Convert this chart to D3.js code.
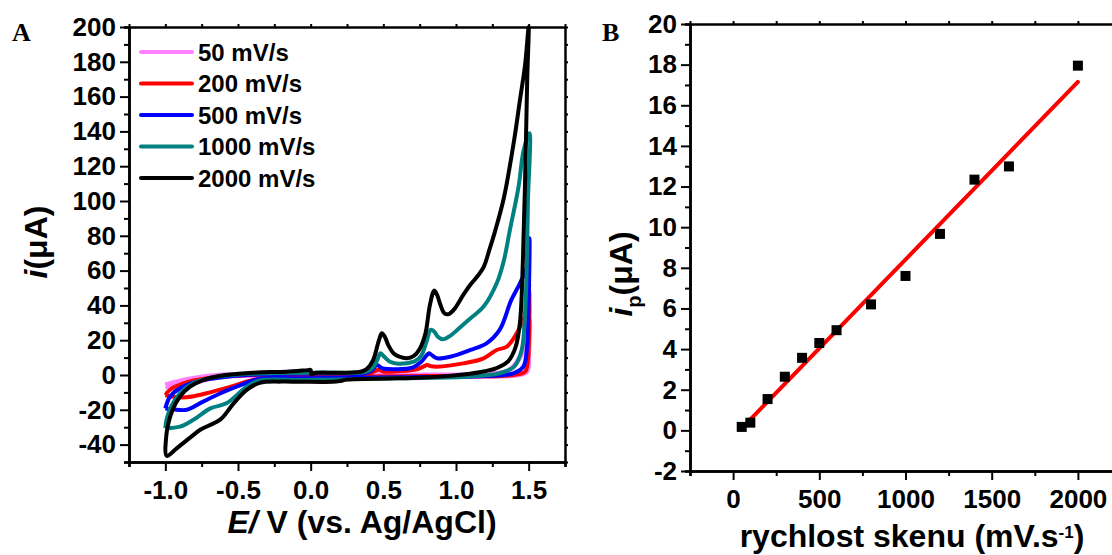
<!DOCTYPE html>
<html>
<head>
<meta charset="utf-8">
<script src="https://cdn.jsdelivr.net/npm/d3@7"></script>
<style>
	body { margin: 0; background: #fff; }
	svg { display: block; font-family: Arial, 'Liberation Sans', sans-serif; font-weight: bold; }
	.tick text { font-size: 26px; font-weight: bold; fill: #000; }
	.domain, .tick line { stroke: #000; }
</style>
</head>
<body>
<svg id="chart" width="1112" height="555"></svg>
<script>

// panel A: cyclic voltammograms, [E (V), i (uA)]
const scanRates = ['50 mV/s', '200 mV/s', '500 mV/s', '1000 mV/s', '2000 mV/s']
const cvColors = ['#ff80ff', '#ff0000', '#0000ff', '#008080', '#000000']

const cv50 = [[-1.0,-5.7],[-0.85,-2.5],[-0.62,0],[0.0,0.3],[1.2,0.5],[1.35,2],[1.395,4.8],[1.463,14.4],[1.505,31.6],
	[1.5,14.4],[1.487,2],[1.418,0],[0.5,-0.3],[-0.3,-0.3],[-0.62,-1],[-0.785,-3.8],[-0.9,-5.7],[-1.0,-6.7]]

const cv200 = [[-1.0,-11.5],[-0.97,-8.6],[-0.876,-4.8],[-0.715,-1.9],[-0.4,0],[0.18,0.6],[0.4,0.8],[0.44,2.2],[0.47,3],[0.5,2],
	[0.6,2.2],[0.73,3.3],[0.78,5],[0.8,5.7],[0.83,5],[0.87,4.8],[1.05,6.7],[1.19,9.6],[1.28,14.4],[1.35,16.3],[1.418,24],
	[1.487,37.4],[1.505,52.7],
	[1.503,24],[1.495,8.6],[1.475,1.9],[1.395,0],[0.8,-0.6],[-0.07,-1],[-0.165,-0.8],[-0.395,-2.9],[-0.55,-6.7],
	[-0.715,-10.5],[-0.853,-12.8],[-0.945,-12.5],[-1.0,-11.5]]

const cv500 = [[-1.0,-19.2],[-0.968,-12.5],[-0.9,-7.6],[-0.785,-3.8],[-0.58,-1],[-0.28,0.6],[0.18,0.9],[0.36,0.8],[0.42,2.5],
	[0.455,5.7],[0.49,4],[0.53,3.5],[0.7,4.2],[0.76,7.5],[0.8,11.5],[0.815,12.5],[0.84,11],[0.87,9.6],[0.96,10.5],
	[1.1,14.4],[1.21,18.2],[1.3,25.9],[1.38,43],[1.44,52.7],[1.487,62],[1.505,78.6],
	[1.5,43],[1.487,14.4],[1.463,4.8],[1.395,1],[1.19,-0.6],[0.6,-1.3],[-0.07,-1.9],[-0.35,-2.2],[-0.51,-6.7],
	[-0.62,-10.5],[-0.74,-15.3],[-0.853,-20],[-0.945,-19.7],[-1.0,-19.2]]

const cv1000 = [[-1.0,-30.6],[-0.99,-25],[-0.96,-18],[-0.9,-10.5],[-0.81,-4.8],[-0.67,-1.3],[-0.4,0.7],[0.18,1.3],[0.36,1.5],
	[0.42,3.5],[0.455,8],[0.48,12.5],[0.5,11],[0.546,7.6],[0.6,6.5],[0.66,6.7],[0.72,8],[0.76,11],[0.8,20],[0.825,25.9],
	[0.85,25],[0.875,22],[0.91,20.5],[0.96,22.5],[1.01,26],[1.1,32.6],[1.19,39.3],[1.28,52.7],[1.33,66],[1.37,83],
	[1.43,108],[1.465,129],[1.505,139],
	[1.495,100],[1.487,62],[1.475,35.5],[1.452,14.4],[1.4,4.8],[1.3,1],[1.07,-1],[0.6,-1.9],[-0.07,-2.9],[-0.35,-3.2],
	[-0.44,-6.7],[-0.58,-16.3],[-0.69,-19.2],[-0.81,-25.9],[-0.9,-29.7],[-0.99,-30.6]]

const cv2000 = [[-1.0,-42],[-0.985,-30],[-0.95,-20],[-0.9,-12.5],[-0.83,-6.7],[-0.74,-2.9],[-0.62,-0.4],[-0.4,1.3],
	[-0.17,1.9],[-0.02,2.8],[0.0,2.9],[0.005,0.5],[0.03,1.2],[0.2,1.3],[0.35,2],[0.39,3.8],[0.43,8.6],[0.47,20],[0.49,24],
	[0.51,22],[0.535,17],[0.57,12.5],[0.61,10.5],[0.66,9.6],[0.71,11],[0.75,15],[0.79,24],[0.82,40],[0.85,48.5],[0.87,46],
	[0.89,41],[0.92,35.5],[0.95,35],[0.99,38],[1.05,46],[1.1,52],[1.15,57],[1.19,62],[1.23,72],[1.27,83],[1.33,102],
	[1.4,135],[1.44,158],[1.475,178],[1.5,200],
	[1.49,170],[1.475,110],[1.46,65],[1.44,30],[1.41,16],[1.36,8],[1.28,4],[1.2,2.2],[1.05,0.3],[0.9,-0.8],[0.6,-1.9],
	[0.25,-2.6],[0.2,-3.5],[0.15,-3.9],[-0.07,-3.9],[-0.2,-3.8],[-0.35,-4.5],[-0.44,-8.6],[-0.53,-16.3],[-0.62,-25.5],
	[-0.7,-29],[-0.76,-31.5],[-0.83,-36],[-0.92,-42],[-0.99,-46.5],[-1.0,-42]]

const cvSeries = [cv50, cv200, cv500, cv1000, cv2000]

// panel B: peak current vs scan rate
const scanRate = [50, 100, 200, 300, 400, 500, 600, 800, 1000, 1200, 1400, 1600, 2000]
const peakCurrent = [0.17, 0.38, 1.54, 2.64, 3.57, 4.3, 4.93, 6.2, 7.6, 9.67, 12.34, 12.99, 17.95]
const fitRate = [50, 2000]
const fitCurrent = [0.1, 17.15]

const xTicksA = [-1.0, -0.5, 0.0, 0.5, 1.0, 1.5]
const yTicksA = [-40, -20, 0, 20, 40, 60, 80, 100, 120, 140, 160, 180, 200]
const xTicksB = [0, 500, 1000, 1500, 2000]
const yTicksB = [-2, 0, 2, 4, 6, 8, 10, 12, 14, 16, 18, 20]

const svg = d3.select('#chart')

// plain hyphen instead of d3's unicode minus
const hyphen = f => d => f(d).replace('\u2212', '-')

const drawFrame = (g, x, y, xMajor, xMinor, yMajor, yMinor, xFmt, yFmt, w, h) => {
	// minor ticks first
	g.append('g').attr('transform', `translate(0,${h})`)
		.call(d3.axisBottom(x).tickValues(xMinor).tickSize(5).tickFormat(''))
	g.append('g')
		.call(d3.axisLeft(y).tickValues(yMinor).tickSize(5).tickFormat(''))
	g.append('g')
		.call(d3.axisTop(x).tickValues(xMinor.concat(xMajor)).tickSize(3).tickFormat('').tickSizeOuter(0))
	g.append('g').attr('transform', `translate(${w},0)`)
		.call(d3.axisRight(y).tickValues(yMinor.concat(yMajor)).tickSize(3).tickFormat('').tickSizeOuter(0))
	g.append('g').attr('transform', `translate(0,${h})`)
		.call(d3.axisBottom(x).tickValues(xMajor).tickSize(9).tickPadding(10).tickFormat(xFmt).tickSizeOuter(0))
	g.append('g')
		.call(d3.axisLeft(y).tickValues(yMajor).tickSize(9).tickPadding(4).tickFormat(yFmt).tickSizeOuter(0))
	g.selectAll('.domain').attr('stroke-width', 2.5)
	g.selectAll('.tick line').attr('stroke-width', 2)
}

// ---------- panel A ----------
const wA = 436, hA = 435
const gA = svg.append('g').attr('transform', 'translate(129,27)')

const xA = d3.scaleLinear().domain([-1.25, 1.75]).range([0, wA])
const yA = d3.scaleLinear().domain([-50, 200]).range([hA, 0])

const cvLine = d3.line()
	.x(d => xA(d[0]))
	.y(d => yA(d[1]))
	.curve(d3.curveCatmullRom.alpha(0.5))

gA.selectAll('path.cv')
	.data(cvSeries)
	.enter()
	.append('path')
	.attr('class', 'cv')
	.attr('d', d => cvLine(d))
	.attr('fill', 'none')
	.attr('stroke', (d, i) => cvColors[i])
	.attr('stroke-width', (d, i) => i === 0 ? 5 : 4)
	.attr('stroke-linejoin', 'round')

drawFrame(gA, xA, yA, xTicksA, [-1.25, -0.75, -0.25, 0.25, 0.75, 1.25, 1.75],
	yTicksA, [-50, -30, -10, 10, 30, 50, 70, 90, 110, 130, 150, 170, 190],
	hyphen(d => d.toFixed(1)), hyphen(d3.format('d')), wA, hA)

const legend = gA.selectAll('g.leg')
	.data(scanRates)
	.enter()
	.append('g')
	.attr('class', 'leg')
	.attr('transform', (d, i) => `translate(12,${25 + i * 31.5})`)

legend.append('line')
	.attr('x1', 0).attr('x2', 51)
	.attr('stroke', (d, i) => cvColors[i])
	.attr('stroke-width', 4)
	.attr('stroke-linecap', 'round')

legend.append('text')
	.attr('x', 57).attr('y', 8.5)
	.style('font-size', '24px')
	.text(d => d)

svg.append('text')
	.attr('x', 12).attr('y', 41)
	.style('font-family', "'Liberation Serif', 'Times New Roman', serif")
	.style('font-size', '26px')
	.text('A')

const yTitleA = svg.append('text')
	.attr('transform', 'translate(47,242) rotate(-90)')
	.attr('text-anchor', 'middle')
	.style('font-size', '32px')
yTitleA.append('tspan').style('font-style', 'italic').text('i')
yTitleA.append('tspan').text('(μA)')

const xTitleA = svg.append('text')
	.attr('x', 362).attr('y', 533)
	.attr('text-anchor', 'middle')
	.style('font-size', '32px')
xTitleA.append('tspan').style('font-style', 'italic').text('E')
xTitleA.append('tspan').style('font-style', 'italic').text('/')
xTitleA.append('tspan').text(' V (vs. Ag/AgCl)')

// ---------- panel B ----------
const wB = 431, hB = 447
const gB = svg.append('g').attr('transform', 'translate(690,24)')

const xB = d3.scaleLinear().domain([-250, 2250]).range([0, wB])
const yB = d3.scaleLinear().domain([-2, 20]).range([hB, 0])

drawFrame(gB, xB, yB, xTicksB, [-250, 250, 750, 1250, 1750, 2250],
	yTicksB, [-1, 1, 3, 5, 7, 9, 11, 13, 15, 17, 19],
	d => d, hyphen(d3.format('d')), wB, hB)

const fitLine = d3.line()
	.x(d => xB(d[0]))
	.y(d => yB(d[1]))

gB.append('path')
	.attr('d', fitLine(fitRate.map((r, i) => [r, fitCurrent[i]])))
	.attr('fill', 'none')
	.attr('stroke', '#ff0000')
	.attr('stroke-width', 4)
	.attr('stroke-linecap', 'round')

gB.selectAll('rect.pt')
	.data(scanRate)
	.enter()
	.append('rect')
	.attr('class', 'pt')
	.attr('x', d => xB(d) - 5)
	.attr('y', (d, i) => yB(peakCurrent[i]) - 5)
	.attr('width', 10)
	.attr('height', 10)
	.attr('fill', '#000')

svg.append('text')
	.attr('x', 602).attr('y', 41)
	.style('font-family', "'Liberation Serif', 'Times New Roman', serif")
	.style('font-size', '26px')
	.text('B')

const yTitleB = svg.append('text')
	.attr('transform', 'translate(632,274) rotate(-90)')
	.attr('text-anchor', 'middle')
	.style('font-size', '32px')
yTitleB.append('tspan').style('font-style', 'italic').text('i')
yTitleB.append('tspan').attr('dy', 9).style('font-size', '20px').text('p')
yTitleB.append('tspan').attr('dy', -9).text('(μA)')

const xTitleB = svg.append('text')
	.attr('x', 912).attr('y', 547)
	.attr('text-anchor', 'middle')
	.style('font-size', '32px')
xTitleB.append('tspan').text('rychlost skenu (mV.s')
xTitleB.append('tspan').attr('dy', -9).style('font-size', '17px').text('-1')
xTitleB.append('tspan').attr('dy', 9).text(')')

</script>
</body>
</html>
